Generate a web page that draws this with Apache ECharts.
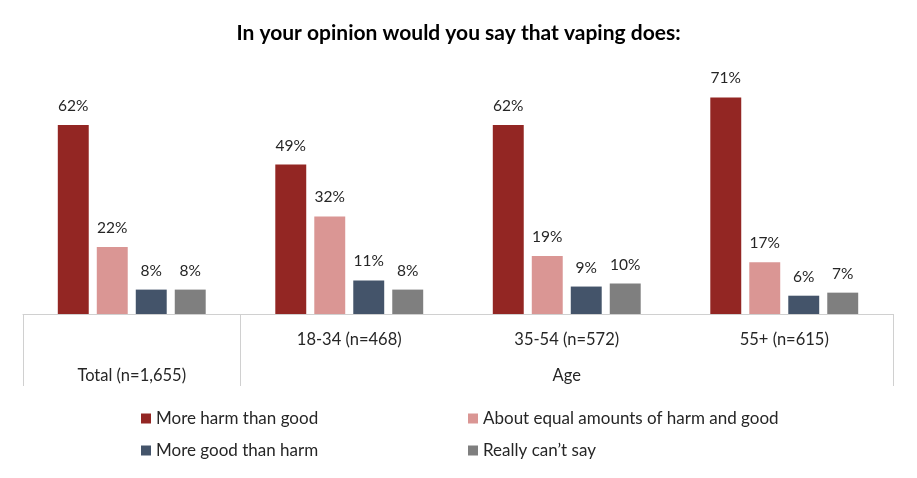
<!DOCTYPE html>
<html><head><meta charset="utf-8">
<script src="https://cdn.jsdelivr.net/npm/echarts@6/dist/echarts.min.js"></script>
<style>html,body{margin:0;padding:0;background:#fff}#c{width:917px;height:478px}</style>
</head><body><div id="c"></div>
<script>
const categories = ['Total (n=1,655)', '18-34 (n=468)', '35-54 (n=572)', '55+ (n=615)'];
const groupLabels = ['Total (n=1,655)', 'Age'];
const seriesNames = ['More harm than good', 'About equal amounts of harm and good', 'More good than harm', 'Really can\u2019t say'];
const harm = [62, 49, 62, 71];
const equal = [22, 32, 19, 17];
const good = [8, 11, 9, 6];
const cantSay = [8, 8, 10, 7];
const colors = ['#932623', '#da9694', '#44546a', '#7f7f7f'];

const FONT = 'Lato';
const chart = echarts.init(document.getElementById('c'));
const values = [harm, equal, good, cantSay];
chart.setOption({
  animation: false,
  title: { text: 'In your opinion would you say that vaping does:', left: 'center', top: 18,
    textStyle: { fontFamily: FONT, fontSize: 21, fontWeight: 'bold', color: '#000' } },
  grid: { left: 23, right: 24, top: 70, bottom: 164 },
  legend: [
    { data: [seriesNames[0], seriesNames[2]], orient: 'vertical', left: 136, top: 405, itemGap: 15,
      icon: 'rect', itemWidth: 10, itemHeight: 10,
      textStyle: { fontFamily: FONT, fontSize: 17, color: '#262626' } },
    { data: [seriesNames[1], seriesNames[3]], orient: 'vertical', left: 463, top: 405, itemGap: 15,
      icon: 'rect', itemWidth: 10, itemHeight: 10,
      textStyle: { fontFamily: FONT, fontSize: 17, color: '#262626' } }
  ],
  xAxis: [
    { type: 'category', data: categories,
      axisLine: { lineStyle: { color: '#d0d0d0', width: 1 } },
      axisTick: { show: false },
      axisLabel: { margin: 17, fontFamily: FONT, fontSize: 16.5, color: '#262626',
        formatter: (v, i) => i === 0 ? '' : v } },
    { type: 'value', min: 0, max: 4, position: 'bottom',
      axisLine: { show: false }, splitLine: { show: false },
      axisTick: { show: true, customValues: [0, 1, 4], length: 72, lineStyle: { color: '#d0d0d0' } },
      axisLabel: { customValues: [0.5, 2.5], margin: 53, fontFamily: FONT, fontSize: 16.5, color: '#262626',
        formatter: v => v < 1 ? groupLabels[0] : groupLabels[1] } }
  ],
  yAxis: { type: 'value', min: 0, max: 80, show: false, splitLine: { show: false } },
  series: seriesNames.map((n, i) => ({
    name: n, type: 'bar', data: values[i], xAxisIndex: 0,
    barGap: '26%', barCategoryGap: '32%',
    itemStyle: { color: colors[i] },
    label: { show: true, position: 'top', distance: 11, formatter: '{c}%',
      fontFamily: FONT, fontSize: 15.5, color: '#262626' }
  }))
});
</script></body></html>
